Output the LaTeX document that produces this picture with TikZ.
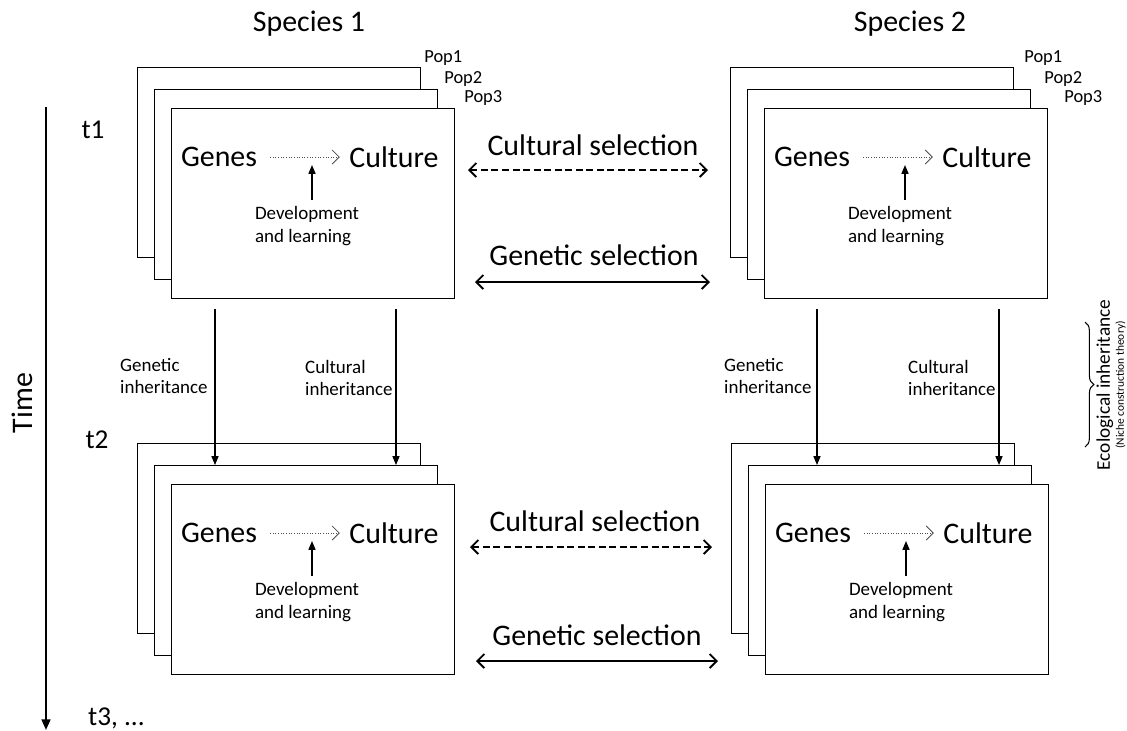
\documentclass[tikz,border=0pt]{standalone}
\usepackage{fontspec}
\setmainfont{Carlito}
\usetikzlibrary{calc,positioning,arrows.meta,decorations.pathreplacing}

\tikzset{
  popbox/.style={draw, fill=white, line width=0.7pt, minimum width=5.66cm,
    minimum height=3.8cm, anchor=north west, inner sep=0pt},
  big/.style={font=\fontsize{17}{19}\selectfont},
  small/.style={font=\fontsize{10.8}{13}\selectfont, align=left},
  devtxt/.style={font=\fontsize{10.8}{13}\selectfont, align=left},
  poplbl/.style={font=\fontsize{10.5}{12}\selectfont, anchor=west, inner sep=0pt},
  tlbl/.style={font=\fontsize{15.5}{17}\selectfont},
  devarrow/.style={densely dotted, line width=0.5pt, black!70,
    -{Straight Barb[length=4pt,width=8pt,line width=0.5pt]},
    shorten <=4pt, shorten >=2pt},
  uparrow/.style={line width=0.7pt, -{Triangle[length=5pt,width=4pt]}},
  inherit/.style={line width=0.6pt, -{Triangle[length=5pt,width=4pt]}},
  culsel/.style={line width=1.1pt, dash pattern=on 4pt off 2pt,
    {Straight Barb[length=4pt,width=8pt]}-{Straight Barb[length=4pt,width=8pt]}},
  gensel/.style={line width=1.1pt,
    {Straight Barb[length=4pt,width=8pt]}-{Straight Barb[length=4pt,width=8pt]}},
  timearrow/.style={line width=1.2pt, -{Triangle[length=6pt,width=5pt]}}
}

\begin{document}
\begin{tikzpicture}[x=0.02cm, y=-0.02cm]
  \useasboundingbox (0,0) rectangle (1127,731);

  % species headers
  \node[big] (sp1) at (309,24) {Species 1};
  \node[big] (sp2) at (910,24) {Species 2};

  % stacks of populations
  \foreach \s/\x/\y in {tl/137/67, tr/730/67, bl/137/443, br/731/443} {
    \node[popbox] (\s-1) at (\x,\y) {};
    \node[popbox] (\s-2) at (\x+17,\y+22) {};
    \node[popbox] (\s-3) at (\x+34,\y+41) {};
    \node[big] (\s-genes) at ($(\s-3.north west)+(48,49)$) {Genes};
    \node[big] (\s-culture) at ($(\s-3.north west)+(223,49)$) {Culture};
    \draw[devarrow] (\s-genes) -- (\s-culture);
    \node[devtxt] (\s-dev) at ($(\s-3.north west)+(136,118)$) {Development\\and learning};
    \coordinate (\s-mid) at ($(\s-3.north west)+(141,57)$);
    \draw[uparrow] (\s-mid |- \s-dev.north) -- (\s-mid);
  }

  \foreach \s/\p in {tl/287, tr/294} {
    \node[poplbl] (\s-pop1) at ($(\s-1.north west)+(\p,-9)$) {Pop1};
    \node[poplbl] (\s-pop2) at ($(\s-1.north west)+(\p+20,12)$) {Pop2};
    \node[poplbl] (\s-pop3) at ($(\s-1.north west)+(\p+40,31)$) {Pop3};
  }

  % inheritance between time steps
  \foreach \s/\b/\g/\c in {tl/bl/44/225, tr/br/53/235} {
    \coordinate (\s-gen) at ($(\s-3.south west)+(\g,10)$);
    \coordinate (\s-cul) at ($(\s-3.south west)+(\c,10)$);
    \draw[inherit] (\s-gen) -- (\s-gen |- \b-2.north);
    \draw[inherit] (\s-cul) -- (\s-cul |- \b-2.north);
  }
  \node[small, anchor=west] (gi-l) at (114,376) {Genetic\\inheritance};
  \node[small, anchor=west] (ci-l) at (299,378) {Cultural\\inheritance};
  \node[small, anchor=west] (gi-r) at (718,376) {Genetic\\inheritance};
  \node[small, anchor=west] (ci-r) at (902,378) {Cultural\\inheritance};

  % selection between species
  \node[big] (cs-top) at (593,145) {Cultural selection};
  \coordinate (cs-top-a) at (468,170);
  \coordinate (cs-top-b) at (708,170);
  \draw[culsel] (cs-top-a) -- (cs-top-b);
  \node[big] (gs-top) at (594,255) {Genetic selection};
  \coordinate (gs-top-a) at (475,282);
  \coordinate (gs-top-b) at (710,282);
  \draw[gensel] (gs-top-a) -- (gs-top-b);

  \node[big] (cs-bot) at (595,521) {Cultural selection};
  \coordinate (cs-bot-a) at (470,547);
  \coordinate (cs-bot-b) at (712,547);
  \draw[culsel] (cs-bot-a) -- (cs-bot-b);
  \node[big] (gs-bot) at (597,635) {Genetic selection};
  \coordinate (gs-bot-a) at (476,661);
  \coordinate (gs-bot-b) at (718,661);
  \draw[gensel] (gs-bot-a) -- (gs-bot-b);

  % ecological inheritance
  \coordinate (eco-a) at (1085,322);
  \coordinate (eco-b) at (1085,447);
  \draw[line width=0.6pt, decorate, decoration={brace, amplitude=5pt}] (eco-a) -- (eco-b);
  \node[rotate=90, align=center, inner sep=0pt, font=\fontsize{11}{10}\selectfont]
    (eco) at (1111,385)
    {Ecological inheritance\\[-2pt]{\fontsize{6.5}{7}\selectfont (Niche construction theory)}};

  % time axis
  \coordinate (time-a) at (46,107);
  \coordinate (time-b) at (46,730);
  \draw[timearrow] (time-a) -- (time-b);
  \node[big, rotate=90] (time) at (22,403) {Time};
  \node[tlbl] (t1) at (93,130) {t1};
  \node[tlbl] (t2) at (97,440) {t2};
  \node[tlbl, anchor=west] (t3) at (82,718) {t3, ...};
\end{tikzpicture}
\end{document}
